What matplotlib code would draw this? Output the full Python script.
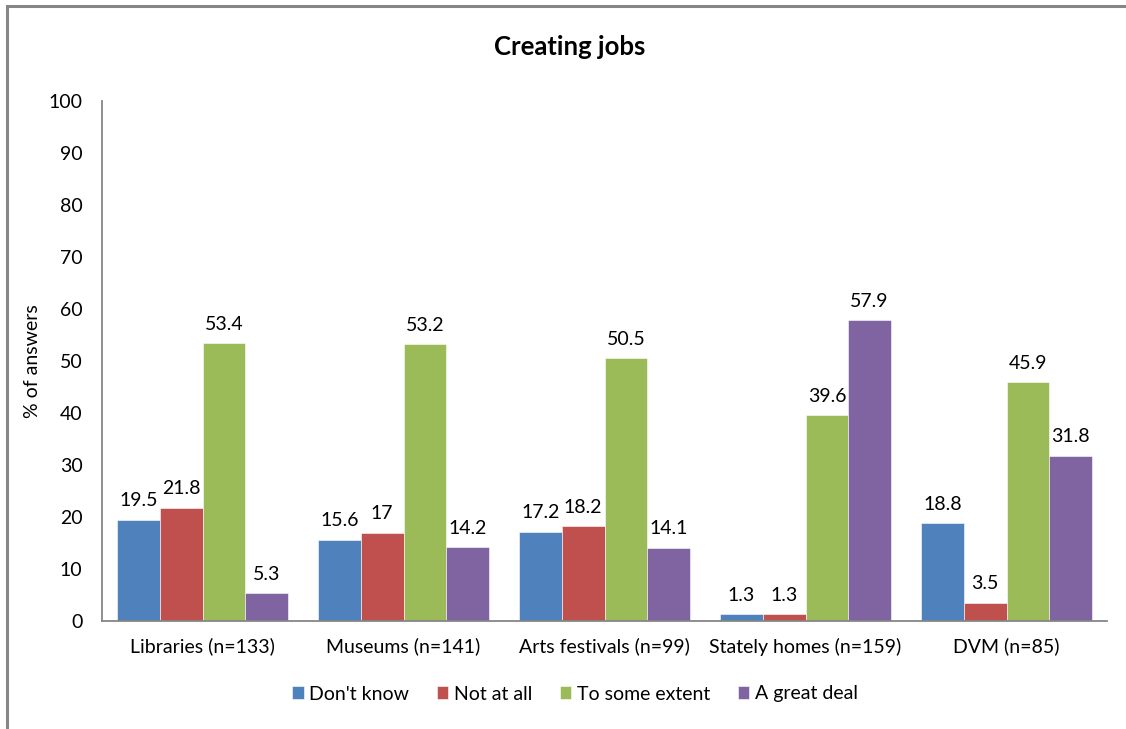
import matplotlib.pyplot as plt
import numpy as np
from matplotlib.patches import Rectangle

plt.rcParams['font.family'] = ['Lato', 'DejaVu Sans']

categorias = ['Libraries (n=133)', 'Museums (n=141)', 'Arts festivals (n=99)',
              'Stately homes (n=159)', 'DVM (n=85)']
series = ["Don't know", 'Not at all', 'To some extent', 'A great deal']
dont_know = [19.5, 15.6, 17.2, 1.3, 18.8]
not_at_all = [21.8, 17, 18.2, 1.3, 3.5]
some_extent = [53.4, 53.2, 50.5, 39.6, 45.9]
great_deal = [5.3, 14.2, 14.1, 57.9, 31.8]
colores = ['#4F81BD', '#C0504D', '#9BBB59', '#8064A2']

fs = 14

fig = plt.figure(figsize=(11.26, 7.29), dpi=100)
ax = fig.add_axes([102/1126, 1-621/729, (1107-102)/1126, 520/729])

# marco gris del grafico
fig.patches.append(Rectangle((7/1126, -0.05), 1.2, 1-6/729+0.05, transform=fig.transFigure,
                             fill=False, edgecolor='#868686', linewidth=2.2))

x = np.arange(len(categorias))
w = 0.2127
datos = [dont_know, not_at_all, some_extent, great_deal]
for i, (vals, col, nom) in enumerate(zip(datos, colores, series)):
    pos = x + (i - 1.5) * w
    barras = ax.bar(pos, vals, w, color=col, edgecolor='white', linewidth=0.4, label=nom)
    for b, v in zip(barras, vals):
        ax.text(b.get_x() + b.get_width()/2, v + 2.0, f'{v:g}', ha='center', va='bottom',
                fontsize=fs, color='black')

ax.set_xlim(-0.5, len(categorias) - 0.5)
ax.set_ylim(0, 100)
ax.set_yticks(range(0, 101, 10))
ax.set_xticks(x)
ax.set_xticklabels(categorias, fontsize=fs)
ax.tick_params(axis='both', length=0, labelsize=fs)
ax.tick_params(axis='y', pad=14)
ax.tick_params(axis='x', pad=12)
for s in ['top', 'right']:
    ax.spines[s].set_visible(False)
for s in ['left', 'bottom']:
    ax.spines[s].set_color('#868686')
    ax.spines[s].set_linewidth(1.3)

ax.set_ylabel('% of answers', fontsize=fs)
ax.yaxis.set_label_coords(-(102-41)/1005, 0.5)
fig.text(570/1126, 1-47/729, 'Creating jobs', ha='center', va='center',
         fontsize=18.5, fontweight='bold')

fig.legend(loc='center', bbox_to_anchor=(575/1126, 1-694/729), ncol=4, frameon=False,
           fontsize=fs, handlelength=0.6, handleheight=0.6, handletextpad=0.3,
           columnspacing=1.4)

fig.savefig('out.png', dpi=100)
